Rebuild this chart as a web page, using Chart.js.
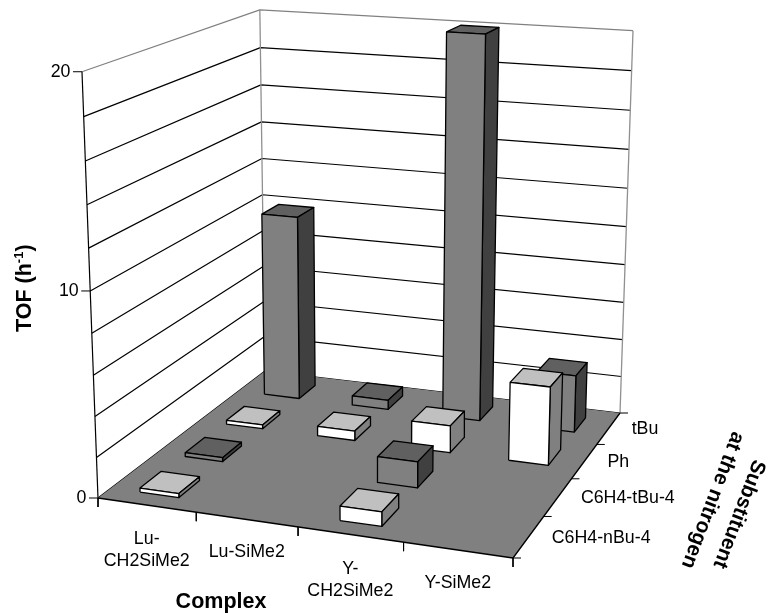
<!DOCTYPE html>
<html>
<head>
<meta charset="utf-8">
<style>
body { margin: 0; background: #fff; }
canvas { display: block; }
</style>
<script src="https://cdn.jsdelivr.net/npm/chart.js@4/dist/chart.umd.js"></script>
</head>
<body>
<canvas id="chart" width="769" height="613"></canvas>
<script>
const complexes = [['Lu-', 'CH2SiMe2'], ['Lu-SiMe2'], ['Y-', 'CH2SiMe2'], ['Y-SiMe2']];
const substituents = ['C6H4-nBu-4', 'C6H4-tBu-4', 'Ph', 'tBu'];
const valueTicks = [0, 10, 20];
const gridStep = 2;

// one list per substituent, null = no bar
const nBuValues = [0.2, null, 0.7, null];
const tBu4Values = [0.2, null, 1.3, null];
const phValues = [0.2, 0.5, 1.4, 4];
const tBuValues = [9.9, 0.5, 20, 3];
const seriesValues = [nBuValues, tBu4Values, phValues, tBuValues];

const maxValue = 20;
const barWidthShare = 0.40;
const barDepthShare = 0.46;
const white = { front: '#ffffff', top: '#c0c0c0', side: '#808080' };
const grey = { front: '#808080', top: '#606060', side: '#404040' };
const seriesColors = [white, grey, white, grey];

// chart frame as seen on screen, used to set up the perspective
const floorL = [98, 498], floorF = [513, 558], floorR = [620, 413], floorB = [265, 371];
const vanish = [370.5, 7752];
const lift = -0.0555;

const den = (floorF[0] - floorR[0]) * (floorB[1] - floorR[1]) - (floorB[0] - floorR[0]) * (floorF[1] - floorR[1]);
const sx = floorL[0] - floorF[0] + floorR[0] - floorB[0];
const sy = floorL[1] - floorF[1] + floorR[1] - floorB[1];
const g = (sx * (floorB[1] - floorR[1]) - (floorB[0] - floorR[0]) * sy) / den;
const h = ((floorF[0] - floorR[0]) * sy - sx * (floorF[1] - floorR[1])) / den;

// u = position along complexes (0..4), v = along substituents (0..4), w = value
function project(u, v, w) {
    const s = u / complexes.length;
    const t = v / substituents.length;
    const k = lift * w / maxValue;
    const a = (floorF[0] - floorL[0] + g * floorF[0]) * s + (floorB[0] - floorL[0] + h * floorB[0]) * t + floorL[0];
    const b = (floorF[1] - floorL[1] + g * floorF[1]) * s + (floorB[1] - floorL[1] + h * floorB[1]) * t + floorL[1];
    const c = g * s + h * t + 1;
    return { x: (a + k * vanish[0]) / (c + k), y: (b + k * vanish[1]) / (c + k) };
}

const datasets = [];

function addShape(points, fillColor, lineColor, lineWidth) {
    datasets.push({
        data: points,
        showLine: true,
        fill: fillColor ? 'shape' : false,
        backgroundColor: fillColor || 'transparent',
        borderColor: lineColor || fillColor,
        borderWidth: lineWidth === undefined ? 1.3 : lineWidth,
        borderJoinStyle: 'round',
        tension: 0,
        pointRadius: 0,
        clip: false,
        order: -datasets.length
    });
}

function addWalls() {
    const uMax = complexes.length;
    const vMax = substituents.length;
    for (let w = 0; w <= maxValue; w += gridStep) {
        addShape([project(0, 0, w), project(0, vMax, w), project(uMax, vMax, w)], null, w === maxValue ? '#808080' : '#000000', 1.2);
    }
    addShape([project(0, vMax, 0), project(0, vMax, maxValue)], null, '#909090', 1.3);
    addShape([project(uMax, vMax, 0), project(uMax, vMax, maxValue)], null, '#909090', 1.3);
    addShape([project(0, 0, 0), project(0, 0, maxValue)], null, '#000000', 1.2);
}

function addFloor() {
    const uMax = complexes.length;
    const vMax = substituents.length;
    addShape([project(0, 0, 0), project(uMax, 0, 0), project(uMax, vMax, 0), project(0, vMax, 0), project(0, 0, 0)], '#808080', '#808080', 0);
    addShape([project(0, 0, 0), project(uMax, 0, 0), project(uMax, vMax, 0)], null, '#000000', 1.3);
}

function addTicks() {
    const uMax = complexes.length;
    const vMax = substituents.length;
    for (let u = 0; u <= uMax; u++) {
        const p = project(u, 0, 0);
        addShape([p, { x: p.x, y: p.y + 9 }], null, '#000000', 1);
    }
    for (let v = 0; v <= vMax; v++) {
        const p = project(uMax, v, 0);
        addShape([p, { x: p.x + 8, y: p.y }], null, '#000000', 1);
    }
    valueTicks.forEach(tick => {
        const p = project(0, 0, tick);
        addShape([{ x: p.x - 9, y: p.y }, p], null, '#000000', 1);
    });
}

function addBar(col, row, value, colors) {
    const gapU = (1 - barWidthShare) / 2;
    const gapV = (1 - barDepthShare) / 2;
    const u0 = col + gapU, u1 = col + 1 - gapU;
    const v0 = row + gapV, v1 = row + 1 - gapV;
    const close = pts => pts.concat([pts[0]]);
    addShape(close([project(u0, v0, value), project(u1, v0, value), project(u1, v1, value), project(u0, v1, value)]), colors.top, '#000000');
    addShape(close([project(u1, v0, 0), project(u1, v1, 0), project(u1, v1, value), project(u1, v0, value)]), colors.side, '#000000');
    addShape(close([project(u0, v0, 0), project(u1, v0, 0), project(u1, v0, value), project(u0, v0, value)]), colors.front, '#000000');
}

addWalls();
addFloor();
addTicks();
// back row first so nearer bars cover farther ones
for (let row = substituents.length - 1; row >= 0; row--) {
    seriesValues[row].forEach((value, col) => {
        if (value !== null) addBar(col, row, value, seriesColors[row]);
    });
}

function drawText(ctx, text, x, y, font, align) {
    ctx.font = font;
    ctx.textAlign = align || 'center';
    ctx.textBaseline = 'middle';
    ctx.fillStyle = '#000000';
    ctx.fillText(text, x, y);
}

const labelPlugin = {
    id: 'labelPlugin',
    afterDraw(chart) {
        const ctx = chart.ctx;
        const xScale = chart.scales.x;
        const yScale = chart.scales.y;
        const tickFont = '17.8px "Liberation Sans"';
        const titleFont = 'bold 21.5px "Liberation Sans"';
        const lineStep = 22;
        ctx.save();
        valueTicks.forEach(tick => {
            const p = project(0, 0, tick);
            drawText(ctx, String(tick), xScale.getPixelForValue(p.x) - 11.5, yScale.getPixelForValue(p.y), tickFont, 'right');
        });
        complexes.forEach((lines, i) => {
            const p = project(i + 0.5, 0, 0);
            const yMid = yScale.getPixelForValue(p.y) + (lines.length > 1 ? 45.5 : 33);
            lines.forEach((line, n) => {
                drawText(ctx, line, xScale.getPixelForValue(p.x), yMid + (n - (lines.length - 1) / 2) * lineStep, tickFont);
            });
        });
        substituents.forEach((name, i) => {
            const p = project(complexes.length, i + 0.5, 0);
            drawText(ctx, name, xScale.getPixelForValue(p.x) + 23, yScale.getPixelForValue(p.y) + 1, tickFont, 'left');
        });
        drawText(ctx, 'Complex', 221, 602, titleFont);

        // rotated axis title with the raised -1
        ctx.save();
        ctx.translate(25, 332);
        ctx.rotate(-Math.PI / 2);
        drawText(ctx, 'TOF (h', 0, 0, titleFont, 'left');
        let advance = ctx.measureText('TOF (h').width;
        drawText(ctx, '-1', advance, -6, 'bold 13px "Liberation Sans"', 'left');
        advance += ctx.measureText('-1').width;
        drawText(ctx, ')', advance, 0, titleFont, 'left');
        ctx.restore();

        [['Substituent', 739, 514], ['at the nitrogen', 712.5, 500]].forEach(item => {
            ctx.save();
            ctx.translate(item[1], item[2]);
            ctx.rotate(110.7 * Math.PI / 180);
            drawText(ctx, item[0], 0, 0, 'bold 20.8px "Liberation Sans"');
            ctx.restore();
        });
        ctx.restore();
    }
};

new Chart(document.getElementById('chart').getContext('2d'), {
    type: 'scatter',
    data: { datasets: datasets },
    options: {
        responsive: false,
        animation: false,
        layout: { padding: 0 },
        scales: {
            x: { type: 'linear', display: false, min: 0, max: 769 },
            y: { type: 'linear', display: false, min: 0, max: 613, reverse: true }
        },
        plugins: {
            legend: { display: false },
            tooltip: { enabled: false }
        }
    },
    plugins: [labelPlugin]
});
</script>
</body>
</html>
